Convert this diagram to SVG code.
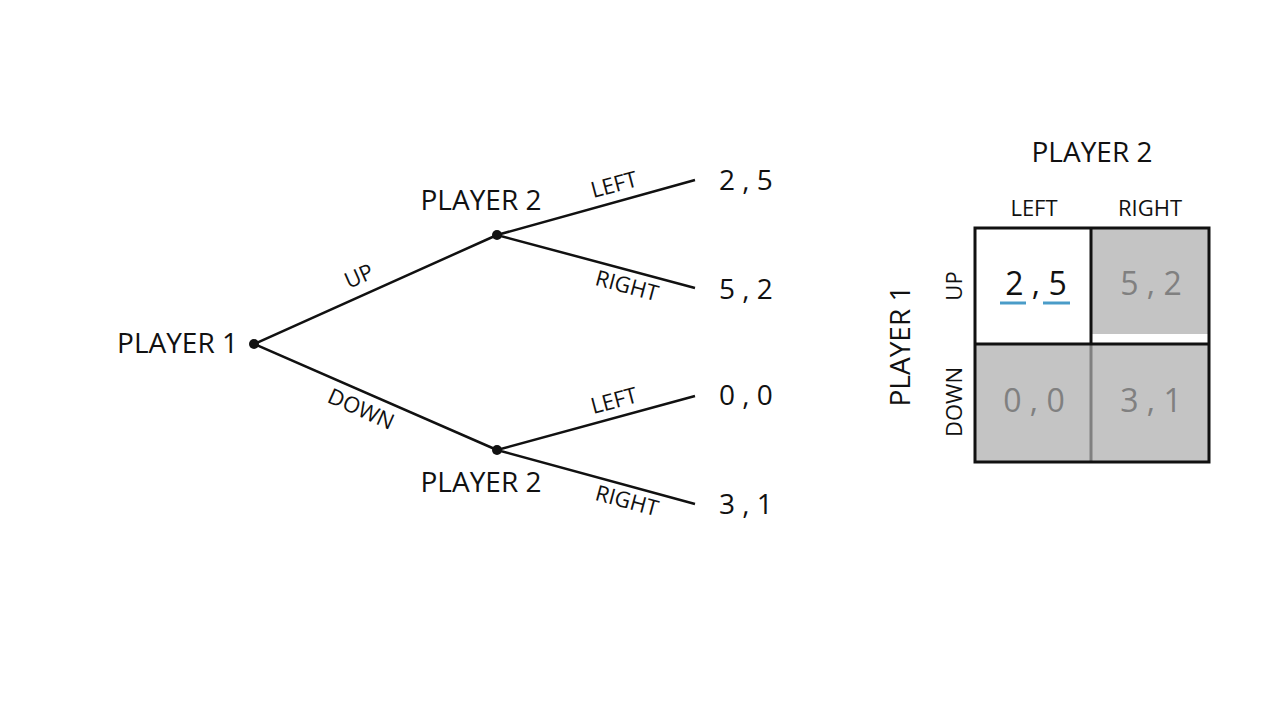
<svg xmlns="http://www.w3.org/2000/svg" width="1280" height="720" viewBox="0 0 1280 720">
<style>
text{font-family:"Open Sans","Liberation Sans",sans-serif;fill:#111}
.n{font-size:28px}
.b{font-size:22px}
.e{stroke:#111;stroke-width:2.5;fill:none}
.g{fill:#808080;font-size:32px}
</style>
<rect width="1280" height="720" fill="#fff"/>
<g id="connectors">
<path class="e" d="M254,344 L497,235 M254,344 L497,450 M497,235 L695,180 M497,235 L695,288 M497,450 L695,396 M497,450 L695,504"/>
<text class="b" transform="translate(362,283) rotate(-24)" text-anchor="middle">UP</text>
<text class="b" transform="translate(358,416) rotate(24)" text-anchor="middle">DOWN</text>
<text class="b" transform="translate(616,192) rotate(-15)" text-anchor="middle">LEFT</text>
<text class="b" transform="translate(625,293) rotate(15)" text-anchor="middle">RIGHT</text>
<text class="b" transform="translate(616,408) rotate(-15)" text-anchor="middle">LEFT</text>
<text class="b" transform="translate(625,508) rotate(15)" text-anchor="middle">RIGHT</text>
</g>
<g id="p1"><circle cx="254" cy="344" r="5" fill="#111"/><text class="n" x="238" y="353" text-anchor="end">PLAYER 1</text></g>
<g id="p2up"><circle cx="497" cy="235" r="5" fill="#111"/><text class="n" x="481" y="210" text-anchor="middle">PLAYER 2</text></g>
<g id="p2down"><circle cx="497" cy="450" r="5" fill="#111"/><text class="n" x="481" y="492" text-anchor="middle">PLAYER 2</text></g>
<g id="pay"><text class="n" x="719" y="190">2 , 5</text><text class="n" x="719" y="299">5 , 2</text><text class="n" x="719" y="405">0 , 0</text><text class="n" x="719" y="514">3 , 1</text></g>
<g id="matrix">
<rect x="1091" y="228" width="118" height="106" fill="#c4c4c4"/>
<rect x="975" y="344" width="234" height="118" fill="#c4c4c4"/>
<line x1="1091" y1="344" x2="1091" y2="462" stroke="#808080" stroke-width="3"/>
<rect x="975" y="228" width="234" height="234" fill="none" stroke="#111" stroke-width="3"/>
<line x1="1091" y1="228" x2="1091" y2="344" stroke="#111" stroke-width="3"/>
<line x1="975" y1="344" x2="1209" y2="344" stroke="#111" stroke-width="3"/>
<text class="n" x="1092" y="162" text-anchor="middle">PLAYER 2</text>
<text class="b" x="1034" y="216" text-anchor="middle">LEFT</text>
<text class="b" x="1150" y="216" text-anchor="middle">RIGHT</text>
<text class="n" transform="translate(910,346) rotate(-90)" text-anchor="middle">PLAYER 1</text>
<text class="b" transform="translate(962,286) rotate(-90)" text-anchor="middle">UP</text>
<text class="b" transform="translate(962,402) rotate(-90)" text-anchor="middle">DOWN</text>
<text x="1036" y="295" text-anchor="middle" font-size="32">2 , 5</text>
<line x1="1000" y1="303" x2="1026" y2="303" stroke="#4a9cc8" stroke-width="3"/>
<line x1="1043" y1="303" x2="1070" y2="303" stroke="#4a9cc8" stroke-width="3"/>
<text class="g" x="1151" y="295" text-anchor="middle">5 , 2</text>
<text class="g" x="1034" y="412" text-anchor="middle">0 , 0</text>
<text class="g" x="1151" y="412" text-anchor="middle">3 , 1</text>
</g>
</svg>
